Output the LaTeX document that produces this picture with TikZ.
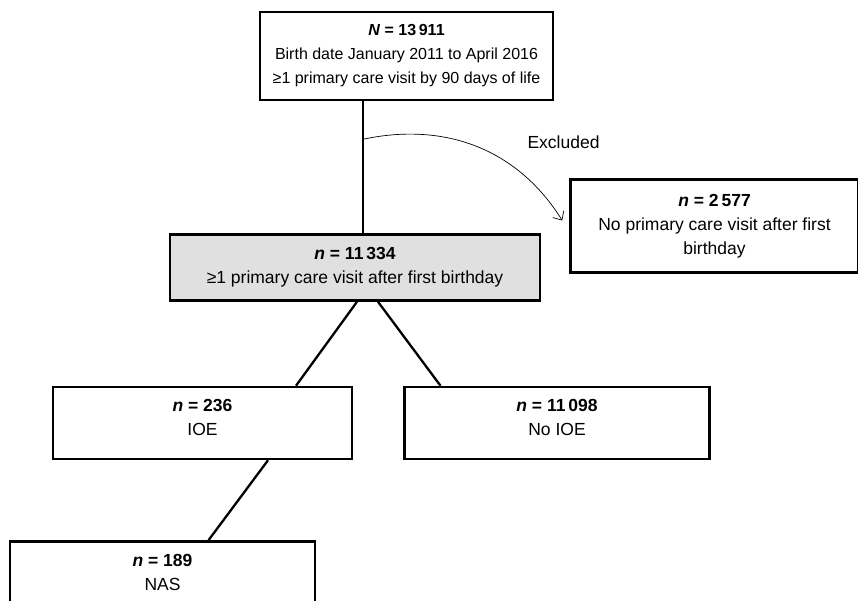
\documentclass[tikz,border=0pt]{standalone}
\usepackage{fontspec}
\setmainfont{Liberation Sans}
\usepackage{tikz}
\usetikzlibrary{arrows.meta, positioning}

\begin{document}
\begin{tikzpicture}[
    box/.style={rectangle, draw, line width=2.5pt, align=center, inner sep=0pt, font=\fontsize{16}{24}\selectfont},
    large/.style={font=\fontsize{17.5}{24}\selectfont},
    shaded/.style={box, large, fill=black!12},
    raised/.style={text height=48.5pt, text depth=23.5pt},
    link/.style={line width=2.3pt},
    excluded/.style={line width=0.7pt, -{Straight Barb[length=7pt, width=13pt]}},
    note/.style={font=\fontsize{17.5}{24}\selectfont}
]

\useasboundingbox (0pt,0pt) rectangle (858pt,-601pt);
\clip (0pt,0pt) rectangle (858pt,-601pt);

% All births
\node[box, minimum width=293pt, minimum height=88pt] (total) at (406.5pt,-56pt) {
    \textbf{\textit{N} = 13\,911} \\
    Birth date January 2011 to April 2016 \\
    ≥1 primary care visit by 90 days of life
};

% Cohort
\node[shaded, minimum width=370pt, minimum height=66pt, below=132pt of total, xshift=-51.5pt] (cohort) {
    \textbf{\textit{n} = 11\,334} \\
    ≥1 primary care visit after first birthday
};

% Excluded
\node[box, large, minimum width=288pt, minimum height=93pt, right=28pt of cohort, yshift=41.5pt] (excl) {
    \textbf{\textit{n} = 2\,577} \\
    No primary care visit after first \\
    birthday
};

% Exposure groups
\node[box, large, raised, minimum width=299pt, minimum height=72pt, below=84pt of cohort, xshift=-152.5pt] (ioe) {
    \textbf{\textit{n} = 236} \\
    IOE
};
\node[box, large, raised, minimum width=305pt, minimum height=72pt, right=50pt of ioe] (noioe) {
    \textbf{\textit{n} = 11\,098} \\
    No IOE
};

% Outcome (runs past the bottom edge)
\node[box, large, raised, minimum width=305pt, minimum height=72pt, below=80pt of ioe, xshift=-40pt] (nas) {
    \textbf{\textit{n} = 189} \\
    NAS
};

% Connectors
\coordinate (split) at ([xshift=-43.5pt, yshift=-38pt]total.south);
\draw[link] ([xshift=-43.5pt]total.south) -- ([xshift=-43.5pt]total.south |- cohort.north);
\draw[excluded] (split) to[out=12, in=122] ([xshift=-7pt, yshift=5.5pt]excl.west);
\node[note] (exclabel) at ([xshift=-151pt, yshift=36pt]excl.north) {Excluded};

\draw[link] ([xshift=2pt]cohort.south) -- ([xshift=93.5pt]ioe.north);
\draw[link] ([xshift=23pt]cohort.south) -- ([xshift=-116.5pt]noioe.north);
\draw[link] ([xshift=65.5pt]ioe.south) -- ([xshift=46pt]nas.north);

\end{tikzpicture}
\end{document}
